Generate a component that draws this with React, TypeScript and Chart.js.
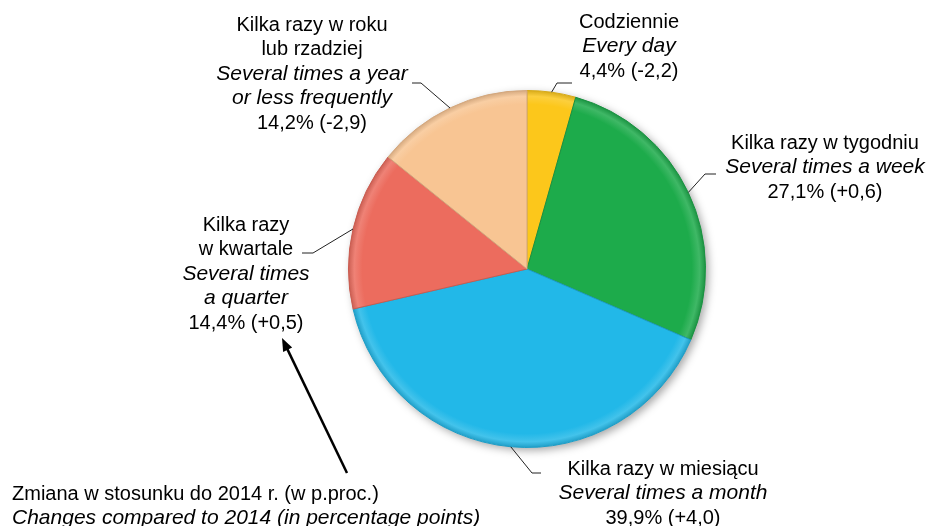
import React, { useEffect, useRef } from "react";
import { Chart, registerables } from "chart.js";

Chart.register(...registerables);

// ---- data ----
const categoriesPl: string[][] = [
  ["Codziennie"],
  ["Kilka razy w tygodniu"],
  ["Kilka razy w miesiącu"],
  ["Kilka razy", "w kwartale"],
  ["Kilka razy w roku", "lub rzadziej"],
];
const categoriesEn: string[][] = [
  ["Every day"],
  ["Several times a week"],
  ["Several times a month"],
  ["Several times", "a quarter"],
  ["Several times a year", "or less frequently"],
];
const shares: number[] = [4.4, 27.1, 39.9, 14.4, 14.2];
const changes: number[] = [-2.2, 0.6, 4.0, 0.5, -2.9];
const colors: string[] = ["#FCC71B", "#1DAB4B", "#22B8E8", "#EC6C5E", "#F8C593"];
const noteLines: string[] = [
  "Zmiana w stosunku do 2014 r. (w p.proc.)",
  "Changes compared to 2014 (in percentage points)",
];

// ---- label layout (annotation placement) ----
type LabelLayout = { cx: number; y0: number; elbow: [number, number]; end: [number, number] };
const labelLayout: LabelLayout[] = [
  { cx: 629, y0: 22, elbow: [557, 83], end: [572, 83] },
  { cx: 825, y0: 143, elbow: [705, 174], end: [716, 174] },
  { cx: 663, y0: 469, elbow: [532, 473], end: [541, 473] },
  { cx: 246, y0: 225, elbow: [313, 253], end: [302, 253] },
  { cx: 312, y0: 25, elbow: [421, 83], end: [412, 83] },
];
const FONT_FAMILY = '"Liberation Sans", Arial, sans-serif';
const FONT_SIZE = 20;
const FONT_SIZE_IT = 21;
const LINE_H = 24.5;

const fmt = (v: number) => v.toFixed(1).replace(".", ",");
const fmtChange = (v: number) => (v > 0 ? "+" : v < 0 ? "-" : "") + fmt(Math.abs(v));

function shade(hex: string, f: number): string {
  const n = parseInt(hex.slice(1), 16);
  const r = (n >> 16) & 255, g = (n >> 8) & 255, b = n & 255;
  const adj = (c: number) => Math.round(f < 0 ? c * (1 + f) : c + (255 - c) * f);
  return `rgb(${adj(r)},${adj(g)},${adj(b)})`;
}

const fontFor = (italic: boolean) =>
  italic ? `italic ${FONT_SIZE_IT}px ${FONT_FAMILY}` : `${FONT_SIZE}px ${FONT_FAMILY}`;

const labelsPlugin = {
  id: "pieLabels",
  beforeDatasetsDraw(chart: any) {
    const meta = chart.getDatasetMeta(0);
    const arc = meta.data[0];
    if (!arc) return;
    const { x, y, outerRadius } = arc.getProps(["x", "y", "outerRadius"], true);
    const ctx = chart.ctx;
    ctx.save();
    ctx.shadowColor = "rgba(0,0,0,0.35)";
    ctx.shadowBlur = 8;
    ctx.shadowOffsetX = 3;
    ctx.shadowOffsetY = 3;
    ctx.fillStyle = "#ffffff";
    ctx.beginPath();
    ctx.arc(x, y, outerRadius, 0, Math.PI * 2);
    ctx.fill();
    ctx.restore();
  },
  afterDraw(chart: any) {
    const ctx = chart.ctx;
    const meta = chart.getDatasetMeta(0);
    ctx.save();
    // leader lines
    ctx.strokeStyle = "#222";
    ctx.lineWidth = 1;
    meta.data.forEach((el: any, i: number) => {
      const { x, y, startAngle, endAngle, outerRadius } = el.getProps(
        ["x", "y", "startAngle", "endAngle", "outerRadius"], true);
      const mid = (startAngle + endAngle) / 2;
      const sx = x + Math.cos(mid) * outerRadius;
      const sy = y + Math.sin(mid) * outerRadius;
      const L = labelLayout[i];
      ctx.beginPath();
      ctx.moveTo(sx, sy);
      ctx.lineTo(L.elbow[0], L.elbow[1]);
      ctx.lineTo(L.end[0], L.end[1]);
      ctx.stroke();
    });
    // texts
    ctx.fillStyle = "#000";
    ctx.textAlign = "center";
    ctx.textBaseline = "middle";
    shares.forEach((v, i) => {
      const L = labelLayout[i];
      const lines: { t: string; it: boolean }[] = [];
      categoriesPl[i].forEach((t) => lines.push({ t, it: false }));
      categoriesEn[i].forEach((t) => lines.push({ t, it: true }));
      lines.push({ t: `${fmt(v)}% (${fmtChange(changes[i])})`, it: false });
      lines.forEach((ln, k) => {
        ctx.font = fontFor(ln.it);
        ctx.fillText(ln.t, L.cx, L.y0 + k * LINE_H);
      });
    });
    // note
    ctx.textAlign = "left";
    noteLines.forEach((t, k) => {
      ctx.font = fontFor(k === 1);
      ctx.fillText(t, 12, 494 + k * LINE_H);
    });
    // arrow
    const ax0 = 347, ay0 = 473, ax1 = 282, ay1 = 338;
    const ang = Math.atan2(ay1 - ay0, ax1 - ax0);
    const hl = 13, hw = 5;
    ctx.strokeStyle = "#000";
    ctx.lineWidth = 2.5;
    ctx.beginPath();
    ctx.moveTo(ax0, ay0);
    ctx.lineTo(ax1 - Math.cos(ang) * hl * 0.8, ay1 - Math.sin(ang) * hl * 0.8);
    ctx.stroke();
    ctx.fillStyle = "#000";
    ctx.beginPath();
    ctx.moveTo(ax1, ay1);
    ctx.lineTo(ax1 - Math.cos(ang) * hl - Math.sin(ang) * hw, ay1 - Math.sin(ang) * hl + Math.cos(ang) * hw);
    ctx.lineTo(ax1 - Math.cos(ang) * hl + Math.sin(ang) * hw, ay1 - Math.sin(ang) * hl - Math.cos(ang) * hw);
    ctx.closePath();
    ctx.fill();
    ctx.restore();
  },
};

export default function App() {
  const ref = useRef<HTMLCanvasElement | null>(null);
  useEffect(() => {
    if (!ref.current) return;
    const chart = new Chart(ref.current, {
      type: "pie",
      data: {
        labels: categoriesPl.map((l) => l.join(" ")),
        datasets: [
          {
            data: shares,
            backgroundColor: (c: any) => {
              const base = colors[c.dataIndex];
              const ca = c.chart.chartArea;
              if (!ca) return base;
              const cx = (ca.left + ca.right) / 2;
              const cy = (ca.top + ca.bottom) / 2;
              const r = Math.min(ca.right - ca.left, ca.bottom - ca.top) / 2;
              const g = c.chart.ctx.createRadialGradient(cx, cy, 0, cx, cy, r);
              g.addColorStop(0, base);
              g.addColorStop(0.92, base);
              g.addColorStop(0.965, shade(base, 0.15));
              g.addColorStop(1, shade(base, -0.15));
              return g;
            },
            borderColor: colors.map((c) => shade(c, -0.15)),
            borderWidth: 1,
          },
        ],
      },
      options: {
        animation: false,
        responsive: true,
        maintainAspectRatio: false,
        layout: { padding: { left: 348, right: 225, top: 90, bottom: 78 } },
        plugins: { legend: { display: false }, tooltip: { enabled: false } },
      },
      plugins: [labelsPlugin],
    });
    return () => chart.destroy();
  }, []);
  return (
    <div style={{ position: "fixed", left: 0, top: 0, width: 931, height: 526, background: "#fff" }}>
      <canvas ref={ref} />
    </div>
  );
}
